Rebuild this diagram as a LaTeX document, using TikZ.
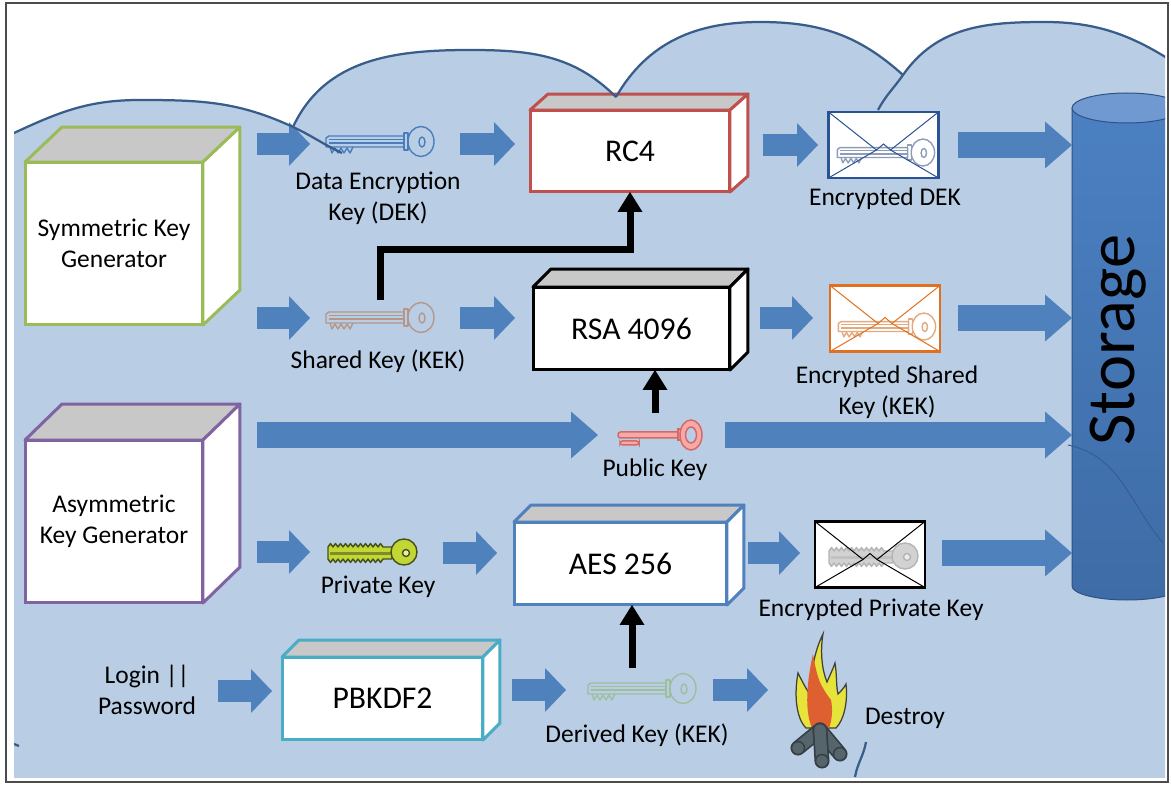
\documentclass[tikz,border=0pt]{standalone}
\usepackage{fontspec}
\setmainfont{Carlito}
\usetikzlibrary{arrows.meta}

\definecolor{cloudfill}{HTML}{B9CDE5}
\definecolor{cloudline}{HTML}{385D8A}
\definecolor{arrowblue}{HTML}{4F81BD}
\definecolor{boxgray}{HTML}{C8C8C8}
\definecolor{symgreen}{HTML}{9BBB59}
\definecolor{asympurple}{HTML}{8064A2}
\definecolor{rcred}{HTML}{C0504D}
\definecolor{aesblue}{HTML}{4F81BD}
\definecolor{pbkteal}{HTML}{4BACC6}
\definecolor{dekblue}{HTML}{4A7EBB}
\definecolor{sharedtan}{HTML}{B5968A}
\definecolor{derivedgreen}{HTML}{9DBF9D}
\definecolor{pubfill}{HTML}{F6A9A7}
\definecolor{publine}{HTML}{D46A68}
\definecolor{privfill}{HTML}{C2D734}
\definecolor{privline}{HTML}{45511C}
\definecolor{envblue}{HTML}{2A5394}
\definecolor{envorange}{HTML}{E0701F}
\definecolor{envkeyblue}{HTML}{8E9CB8}
\definecolor{envkeyorange}{HTML}{E3A97F}
\definecolor{envkeyfill}{HTML}{D2D2D2}
\definecolor{envkeyline}{HTML}{B4B4B4}
\definecolor{flameyellow}{HTML}{E6E43A}
\definecolor{flamered}{HTML}{DE6030}
\definecolor{logfill}{HTML}{56646B}
\definecolor{logline}{HTML}{353F45}
\definecolor{cyltop}{HTML}{4B80C2}
\definecolor{cylbot}{HTML}{3E6CA6}
\definecolor{cylcap}{HTML}{6F99D0}
\definecolor{cylline}{HTML}{2E5283}

\newcommand\lblfont{\fontsize{14.5}{17.5}\selectfont}
\newcommand\boxfont{\fontsize{18}{21}\selectfont}

% top and side faces of a box node: node, colour, depth x, depth y
\newcommand\cubefaces[4]{%
  \draw[draw=#2,line width=0.06cm,line join=round,fill=boxgray] (#1.north west) -- ++(#3,#4) -- ([shift={(#3,#4)}]#1.north east) -- (#1.north east) -- cycle;
  \draw[draw=#2,line width=0.06cm,line join=round,fill=white] (#1.north east) -- ++(#3,#4) -- ([shift={(#3,#4)}]#1.south east) -- (#1.south east) -- cycle;}

% envelope flap lines: node, colour
\newcommand\envflap[2]{%
  \draw[#2,line width=0.02cm] (#1.north west) -- ([shift={(-7,-5)}]#1.center) -- ([shift={(0,1)}]#1.center) -- ([shift={(7,-5)}]#1.center) -- (#1.north east);
  \draw[#2,line width=0.02cm] (#1.south west) -- ([shift={(-7,-5)}]#1.center) (#1.south east) -- ([shift={(7,-5)}]#1.center);}

\tikzset{
  pics/outkey/.style={code={
    \begin{scope}[color=#1,line width=0.028cm,line join=round]
    \draw (-54,-5) -- (-54,4) -- (-51,6) -- (24,6) -- (24,-5) -- cycle;
    \draw (-51,2.5) -- (24,2.5) (-51,-1) -- (24,-1);
    \draw (24,-8) rectangle (28,9);
    \draw (41,0.5) ellipse[x radius=13,y radius=15];
    \draw (42,0) ellipse[x radius=3,y radius=5];
    \draw (-50,-5) -- (-48,-11) -- (-45,-6) -- (-42,-11) -- (-39,-6) -- (-36,-11) -- (-33,-6) -- (-30,-11) -- (-27,-5);
    \end{scope}}},
  pics/pubkey/.style={code={
    \filldraw[draw=publine,fill=pubfill,line width=0.03cm,rounded corners=1.5] (-37,-2) rectangle (26,4);
    \filldraw[draw=publine,fill=pubfill,line width=0.03cm,rounded corners=1.5] (-35,-5) rectangle (-16,-9);
    \filldraw[draw=publine,fill=pubfill,line width=0.03cm] (23,-4) rectangle (27,7);
    \filldraw[draw=publine,fill=pubfill,line width=0.03cm,even odd rule] (36,1) ellipse[x radius=11,y radius=15] (36,1) ellipse[x radius=5.5,y radius=8];}},
  pics/privkey/.style 2 args={code={
    \filldraw[fill=#1,draw=#2,line width=0.028cm,line join=round] (-42,-6) \foreach \i in {1,...,11}{-- ++(2.5,-3.5) -- ++(2.5,3.5)} -- (22,-6) -- (22,6) -- (13,6) \foreach \i in {1,...,11}{-- ++(-2.5,3.5) -- ++(-2.5,-3.5)} -- cycle;
    \fill[#2!55!#1] (-40,-1.5) rectangle (22,1.5);
    \filldraw[fill=#1,draw=#2,line width=0.028cm] (34,1) circle[radius=13];
    \filldraw[fill=white!55!#1,draw=#2,line width=0.028cm] (36,0) circle[radius=3.5];}},
  pics/campfire/.style={code={
    \filldraw[fill=flameyellow,draw=black!75,line width=0.025cm] (-14,2) .. controls (-24,12) and (-26,35) .. (-22,57) .. controls (-16,45) and (-12,38) .. (-9,34) .. controls (-10,60) and (-4,82) .. (3,96) .. controls (0,78) and (2,60) .. (7,48) .. controls (10,55) and (13,61) .. (15,67) .. controls (17,55) and (16,44) .. (18,36) .. controls (21,39) and (24,42) .. (26,46) .. controls (28,28) and (24,10) .. (16,2) -- cycle;
    \fill[flamered] (-8,2) .. controls (-15,18) and (-14,45) .. (-7,76) .. controls (-4,58) and (-1,48) .. (3,42) .. controls (5,38) and (8,34) .. (11,30) .. controls (13,20) and (12,10) .. (9,2) -- cycle;
    \foreach \ex/\ey in {-22/-18,20/-24,2/-31}{
      \draw[logline,line width=0.3cm,line cap=round] (0,0) -- (\ex,\ey);
      \draw[logfill,line width=0.23cm,line cap=round] (0,0) -- (\ex,\ey);
      \filldraw[fill=logfill,draw=logline,line width=0.03cm] (\ex,\ey) circle[radius=6.5];}}}
}

\begin{document}
\begin{tikzpicture}[x=0.02cm,y=0.02cm,
  blk/.style={draw=arrowblue,line width=0.44cm,-{Triangle[length=0.42cm,width=0.88cm,line width=0pt]}},
  blkl/.style={draw=arrowblue,line width=0.52cm,-{Triangle[length=0.54cm,width=0.94cm,line width=0pt]}},
  kek/.style={line width=0.14cm,-{Triangle[length=0.4cm,width=0.5cm,line width=0pt]}},
  cube/.style={draw=#1,fill=white,line width=0.06cm,outer sep=0pt,inner sep=0pt,align=center,font=\boxfont},
  env/.style={draw=#1,fill=white,line width=0.055cm,minimum width=2.2cm,minimum height=1.32cm,outer sep=0pt,inner sep=0pt},
  lbl/.style={align=center,font=\lblfont}]
\useasboundingbox (0,0) rectangle (1171,-787);
\fill[white] (0,0) rectangle (1171,-787);

% cloud and storage
\begin{scope}
\clip (14,-5) rectangle (1165,-777);
\fill[cloudfill] (14,-133) to[out=25,in=180] (140,-100) to[out=0,in=155] (293,-127) to[out=65,in=180] (470,-50) to[out=0,in=135] (616,-97) to[out=60,in=180] (760,-22) to[out=0,in=138] (903,-75) to[out=55,in=180] (1045,-22) to[out=0,in=145] (1200,-80) -- (1200,-800) -- (0,-800) -- (0,-133) -- cycle;
\shade[top color=cyltop,bottom color=cylbot] (1072,-108) -- (1072,-586) arc[start angle=180,end angle=360,x radius=55,y radius=14] -- (1182,-108) -- cycle;
\draw[cylline,line width=0.02cm] (1182,-108) -- (1182,-586) arc[start angle=360,end angle=180,x radius=55,y radius=14] -- (1072,-108);
\filldraw[fill=cylcap,draw=cylline,line width=0.02cm] (1127,-108) ellipse[x radius=55,y radius=15];
\end{scope}
\node[rotate=90,font=\fontsize{39}{40}\selectfont] (stor) at (1118,-340) {Storage};

% block arrows
\foreach \n/\xa/\xb/\y in {a1/257/310/144,a2/460/515/144,a3/763/818/145,b1/257/310/318,b2/460/515/318,b3/760/813/318,d1/257/310/552,d2/443/497/553,d3/748/800/553,e1/218/272/691,e2/512/566/690,e3/713/768/690}{
  \coordinate (\n-s) at (\xa,-\y);
  \coordinate (\n-e) at (\xb,-\y);
  \draw[blk] (\n-s) -- (\n-e);}
\foreach \n/\xa/\xb/\y in {a4/958/1072/145,b4/958/1072/318,c1/257/598/435,c2/725/1072/435,d4/942/1072/553}{
  \coordinate (\n-s) at (\xa,-\y);
  \coordinate (\n-e) at (\xb,-\y);
  \draw[blkl] (\n-s) -- (\n-e);}

% generators and ciphers
\node[cube=symgreen,font=\lblfont,minimum width=3.56cm,minimum height=3.26cm] (sym) at (114,-243.5) {Symmetric Key\\Generator};
\cubefaces{sym}{symgreen}{37}{35}
\node[cube=asympurple,font=\lblfont,minimum width=3.56cm,minimum height=3.26cm] (asym) at (114,-521.5) {Asymmetric\\Key Generator};
\cubefaces{asym}{asympurple}{37}{36}
\node[cube=rcred,minimum width=4cm,minimum height=1.64cm] (rc4) at (630,-151) {RC4};
\cubefaces{rc4}{rcred}{18}{16}
\node[cube=black,minimum width=3.94cm,minimum height=1.66cm] (rsa) at (631.5,-328.5) {RSA 4096};
\cubefaces{rsa}{black}{18}{18}
\node[cube=aesblue,minimum width=4.26cm,minimum height=1.66cm] (aes) at (620.5,-563.5) {AES 256};
\cubefaces{aes}{aesblue}{17}{17}
\node[cube=pbkteal,minimum width=4.02cm,minimum height=1.66cm] (pbk) at (382.5,-698.5) {PBKDF2};
\cubefaces{pbk}{pbkteal}{17}{17}

% keys
\pic at (380,-142) {outkey=dekblue};
\pic at (380,-318) {outkey=sharedtan};
\pic at (642,-689) {outkey=derivedgreen};
\pic at (655,-436) {pubkey};
\pic at (370,-553) {privkey={privfill}{privline}};

% encrypted keys
\node[env=envblue] (edek) at (883.5,-145) {};
\pic[scale=0.9] at (886,-153) {outkey=envkeyblue};
\envflap{edek}{envblue}
\node[env=envorange] (eshk) at (885,-318.5) {};
\pic[scale=0.9] at (887,-327) {outkey=envkeyorange};
\envflap{eshk}{envorange}
\node[env=black] (epk) at (870,-554.5) {};
\pic at (871,-557) {privkey={envkeyfill}{envkeyline}};
\envflap{epk}{black}

\pic at (820,-730) {campfire};

% labels
\node[lbl] (dektxt) at (378,-198) {Data Encryption\\Key (DEK)};
\node[lbl] (sktxt) at (378,-361) {Shared Key (KEK)};
\node[lbl] (pubtxt) at (655,-470) {Public Key};
\node[lbl] (privtxt) at (378,-587) {Private Key};
\node[lbl] (dertxt) at (637,-735) {Derived Key (KEK)};
\node[lbl] (edektxt) at (885,-199) {Encrypted DEK};
\node[lbl] (eshktxt) at (887,-392) {Encrypted Shared\\Key (KEK)};
\node[lbl] (epktxt) at (871,-610) {Encrypted Private Key};
\node[lbl] (desttxt) at (905,-718) {Destroy};
\node[lbl] (login) at (147,-690) {Login ||\\Password};

% key encryption keys feeding the ciphers
\coordinate (sk) at (380,-300);
\draw[kek] (sk) -- ++(0,50) -| (rc4.south);
\coordinate (pk) at (655,-413);
\draw[kek] (pk) -- (pk |- rsa.south);
\coordinate (dk) at (632,-668);
\draw[kek] (dk) -- (dk |- aes.south);

% cloud outline
\begin{scope}[cloudline,line width=0.045cm]
\clip (14,-5) rectangle (1165,-777);
\draw (14,-133) to[out=25,in=180] (140,-100) to[out=0,in=155] (293,-127);
\draw (293,-127) to[out=65,in=180] (470,-50) to[out=0,in=135] (616,-97);
\draw (616,-97) to[out=60,in=180] (760,-22) to[out=0,in=138] (903,-75);
\draw (878,-110) to[out=62,in=235] (903,-75) to[out=55,in=180] (1045,-22) to[out=0,in=145] (1200,-80);
\draw (293,-127) to[out=-25,in=155] (342,-153);
\draw (866,-742) to[out=-100,in=80] (855,-777);
\draw (14,-744) -- (19,-746);
\draw[cylline!55!cylbot,line width=0.02cm] (1068,-445) to[out=-12,in=130] (1163,-543);
\end{scope}

\draw[black!70,line width=0.03cm] (6,-3) rectangle (1168,-782);
\end{tikzpicture}
\end{document}
